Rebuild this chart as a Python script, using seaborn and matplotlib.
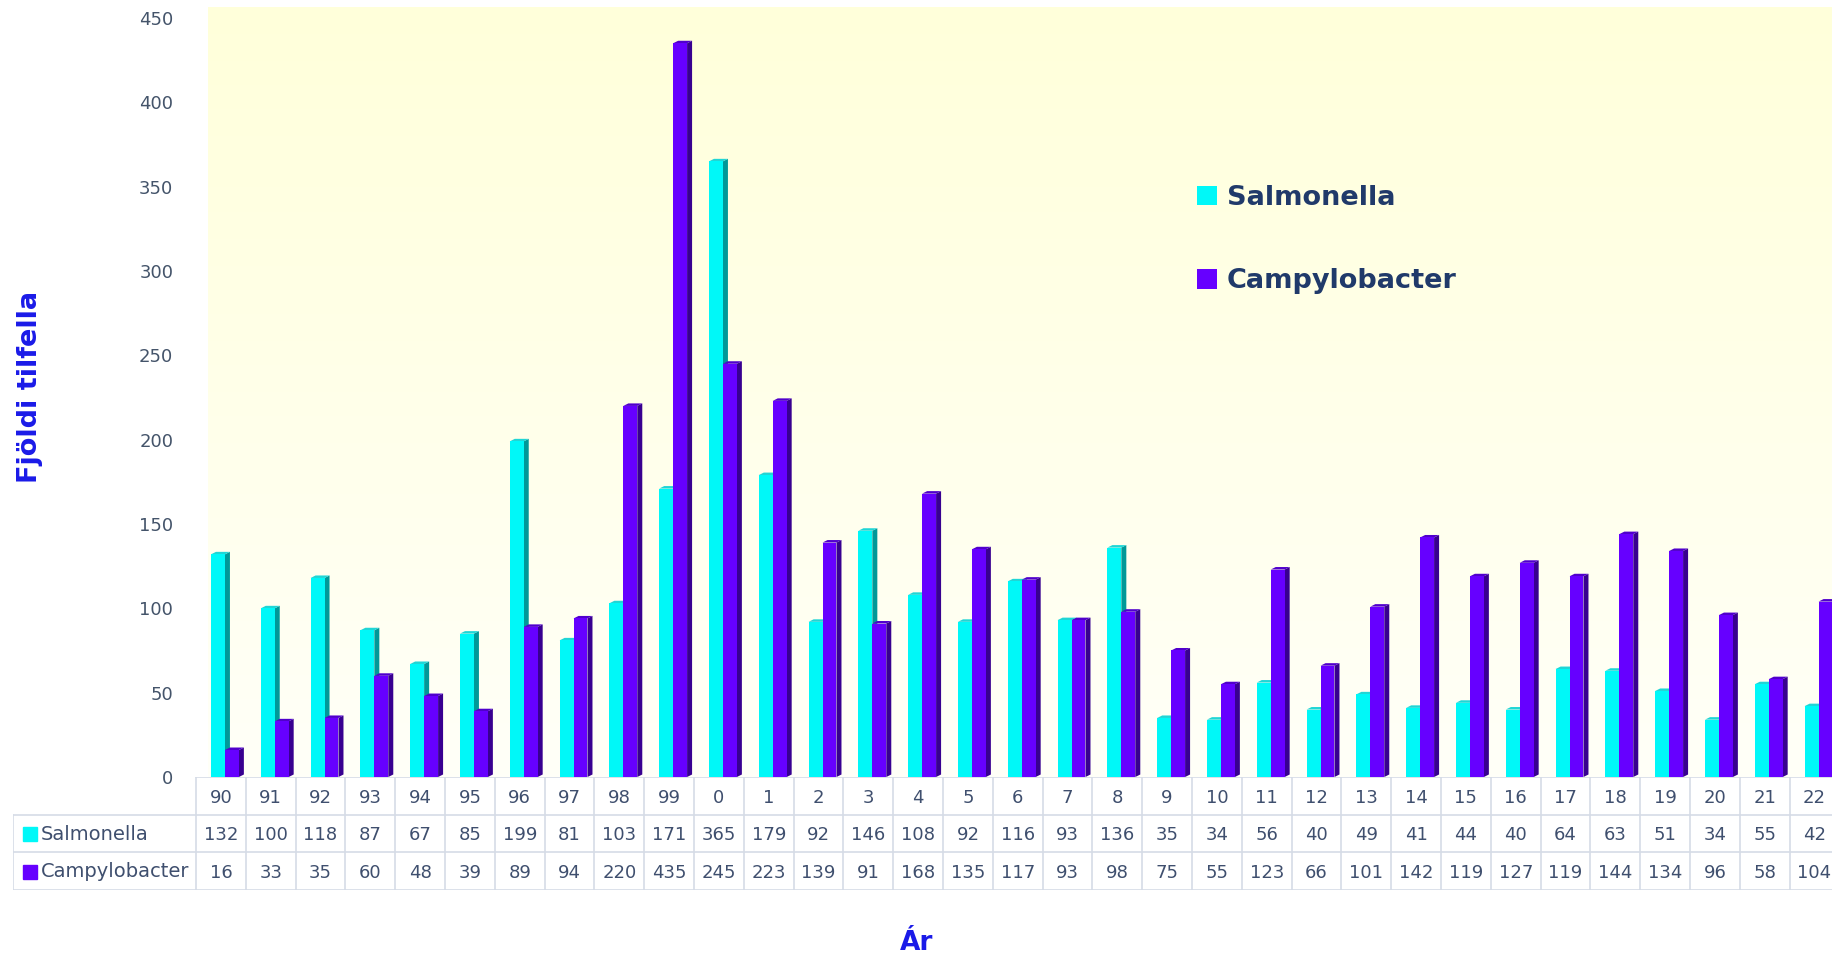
import numpy as np
import pandas as pd
import matplotlib
matplotlib.use("Agg")
import matplotlib.pyplot as plt
from matplotlib.patches import Polygon, Patch
from matplotlib.colors import LinearSegmentedColormap
import seaborn as sns

# ---------------- data ----------------
years = ["90", "91", "92", "93", "94", "95", "96", "97", "98", "99",
         "0", "1", "2", "3", "4", "5", "6", "7", "8", "9", "10", "11",
         "12", "13", "14", "15", "16", "17", "18", "19", "20", "21", "22"]
salmonella = [132, 100, 118, 87, 67, 85, 199, 81, 103, 171, 365, 179, 92, 146,
              108, 92, 116, 93, 136, 35, 34, 56, 40, 49, 41, 44, 40, 64, 63, 51,
              34, 55, 42]
campylobacter = [16, 33, 35, 60, 48, 39, 89, 94, 220, 435, 245, 223, 139, 91,
                 168, 135, 117, 93, 98, 75, 55, 123, 66, 101, 142, 119, 127, 119,
                 144, 134, 96, 58, 104]
series_names = ["Salmonella", "Campylobacter"]
yticks = [0, 50, 100, 150, 200, 250, 300, 350, 400, 450]
y_label = "Fjöldi tilfella"
x_label = "Ár"

# ---------------- styles ----------------
front_colors = {"Salmonella": "#00F8F8", "Campylobacter": "#6600FF"}
side_colors = {"Salmonella": "#009898", "Campylobacter": "#380090"}
top_colors = {"Salmonella": "#1FD6D6", "Campylobacter": "#5000CC"}
tick_color = "#44546A"
table_text_color = "#3F4F6E"
grid_color = "#D5DCE6"
legend_text_color = "#203A6A"
title_blue = "#1A1AE8"

sns.set_theme(style="white")
plt.rcParams["font.family"] = ["DejaVu Sans"]

W, H = 1832, 960
fig = plt.figure(figsize=(W / 100, H / 100), dpi=100)
fig.patch.set_facecolor("white")


def fx(px):
    return px / W


def fy(py):
    return 1 - py / H


COL_PX = 49.8
COL0_PX = 196


def col(px):
    return -0.5 + (px - COL0_PX) / COL_PX


YMAX = 456.5
AX_TOP, AX_BOT = 7, 777
SHIFT = 0.081

rect = [fx(208), fy(AX_BOT), fx(1832) - fx(208), fy(AX_TOP) - fy(AX_BOT)]

# background gradient axes
bg = fig.add_axes(rect, zorder=0)
grad = np.linspace(0, 1, 256).reshape(-1, 1)
cmap = LinearSegmentedColormap.from_list("bgy", ["#FFFFDA", "#FFFFF8"])
bg.imshow(grad, aspect="auto", cmap=cmap, extent=[0, 1, 0, 1], origin="upper")
bg.set_axis_off()

ax = fig.add_axes(rect, zorder=1)
ax.patch.set_alpha(0)

df = pd.DataFrame({
    "year": years * 2,
    "series": [series_names[0]] * len(years) + [series_names[1]] * len(years),
    "cases": salmonella + campylobacter,
})

sns.barplot(data=df, x="year", y="cases", hue="series", order=years,
            hue_order=series_names, palette=front_colors, width=0.56,
            saturation=1, dodge=True, legend=False, errorbar=None,
            linewidth=0, ax=ax, zorder=3)

ax.set_xlim(col(208) - SHIFT, col(1832) - SHIFT)
ax.set_ylim(0, YMAX)

# 3D side/top faces derived from the drawn bars
ddx = 5 / COL_PX
ddy = 2.5 * YMAX / (AX_BOT - AX_TOP)
for cont, name in zip(ax.containers, series_names):
    for p in cont:
        x0, w, h = p.get_x(), p.get_width(), p.get_height()
        side = Polygon([(x0 + w, 0), (x0 + w + ddx, ddy), (x0 + w + ddx, h + ddy), (x0 + w, h)],
                       closed=True, facecolor=side_colors[name], edgecolor="none", zorder=2.5)
        top = Polygon([(x0, h), (x0 + ddx, h + ddy), (x0 + w + ddx, h + ddy), (x0 + w, h)],
                      closed=True, facecolor=top_colors[name], edgecolor="none", zorder=2.5)
        ax.add_patch(side)
        ax.add_patch(top)

ax.set_yticks(yticks)
ax.set_yticklabels([str(v) for v in yticks])
ax.set_xticks([])
ax.tick_params(axis="y", length=0, pad=25, labelsize=13, labelcolor=tick_color)
ax.set_xlabel("")
ax.set_ylabel("")
for s in ax.spines.values():
    s.set_visible(False)

# ---------------- data table ----------------
tax = fig.add_axes([fx(13), fy(890), fx(1832) - fx(13), fy(777) - fy(890)], zorder=2)
tax.set_xlim(col(13), col(1832))
tax.set_ylim(3, 0)
tax.set_axis_off()
n = len(years)
lw = 1.2
for i in range(n + 1):
    tax.plot([i - 0.5, i - 0.5], [0, 3], color=grid_color, lw=lw, clip_on=True)
tax.plot([col(13) + 0.01, col(13) + 0.01], [1, 3], color=grid_color, lw=lw)
tax.plot([-0.5, n], [0.01, 0.01], color=grid_color, lw=lw)
for yy in (1, 2, 2.99):
    tax.plot([col(13), n], [yy, yy], color=grid_color, lw=lw)

rows = [salmonella, campylobacter]
for i, yr in enumerate(years):
    tax.text(i, 0.55, yr, ha="center", va="center", fontsize=13, color=table_text_color)
    for r, vals in enumerate(rows):
        tax.text(i, 1.55 + r, str(vals[i]), ha="center", va="center",
                 fontsize=13, color=table_text_color)
for r, name in enumerate(series_names):
    tax.plot([col(30)], [1.52 + r], marker="s", markersize=10,
             color=front_colors[name], linestyle="none")
    tax.text(col(41), 1.52 + r, name, ha="left", va="center", fontsize=14,
             color=table_text_color)

# ---------------- labels & legend ----------------
fig.text(fx(30), fy(387), y_label, rotation=90, ha="center", va="center",
         fontsize=19.5, fontweight="bold", color=title_blue)
fig.text(fx(917), fy(943), x_label, ha="center", va="center",
         fontsize=19, fontweight="bold", color=title_blue)

handles = [Patch(facecolor=front_colors[nm], edgecolor="none") for nm in series_names]
fig.legend(handles, series_names, loc="upper left",
           bbox_to_anchor=(fx(1197), fy(185)), bbox_transform=fig.transFigure,
           frameon=False, prop={"weight": "bold", "size": 19.5},
           labelcolor=legend_text_color, handlelength=0.74, handleheight=0.74,
           handletextpad=0.37, labelspacing=2.12, borderpad=0, borderaxespad=0)

fig.savefig("out.png", dpi=100, facecolor="white")
